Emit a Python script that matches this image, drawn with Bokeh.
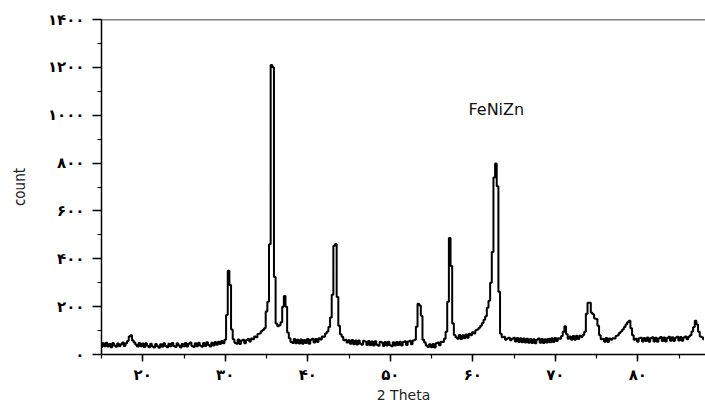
import numpy as np
from bokeh.plotting import figure
from bokeh.models import Range1d, SingleIntervalTicker, Span, Label
from bokeh.embed import file_html
from bokeh.resources import INLINE

# XRD scan: start angle and step of the measurement grid (degrees 2-theta)
scan_start = 15.0
scan_step = 0.2

# counts, in 10-degree blocks
counts_15_25 = [
    31, 47, 35, 49, 33, 44, 30, 48, 38, 32,
    46, 34, 43, 50, 36, 47, 56, 75, 80, 58,
    50, 41, 33, 48, 35, 46, 31, 47, 37, 30,
    45, 33, 29, 44, 35, 28, 43, 32, 47, 36,
    30, 45, 34, 48, 36, 31, 47, 38, 29, 44,
]
counts_25_35 = [
    34, 48, 33, 45, 50, 36, 31, 47, 35, 49,
    38, 32, 48, 36, 51, 40, 33, 49, 38, 52,
    41, 53, 44, 56, 47, 62, 165, 350, 290, 105,
    64, 49, 45, 63, 44, 58, 62, 47, 61, 65,
    54, 67, 64, 75, 72, 86, 88, 97, 102, 110,
]
counts_35_45 = [
    180, 220, 461, 1210, 1200, 324, 130, 118, 122, 135,
    200, 245, 200, 92, 68, 52, 48, 65, 47, 62,
    46, 63, 45, 61, 48, 65, 45, 62, 66, 50,
    65, 52, 68, 63, 75, 74, 88, 96, 115, 155,
    250, 455, 462, 240, 120, 85, 74, 60, 62, 50,
]
counts_45_55 = [
    60, 45, 61, 43, 59, 42, 58, 45, 41, 57,
    54, 40, 56, 39, 54, 38, 55, 41, 37, 53,
    50, 36, 52, 38, 53, 39, 35, 51, 38, 52,
    40, 53, 38, 52, 55, 40, 54, 57, 43, 59,
    62, 116, 212, 205, 162, 62, 50, 38, 31, 43,
]
counts_55_65 = [
    30, 44, 29, 47, 50, 39, 53, 52, 66, 95,
    220, 487, 370, 130, 82, 72, 66, 82, 65, 80,
    68, 84, 70, 87, 80, 93, 88, 101, 104, 112,
    120, 132, 145, 160, 195, 225, 300, 428, 740, 798,
    703, 262, 87, 72, 74, 62, 67, 70, 60, 66,
]
counts_65_75 = [
    70, 54, 69, 52, 68, 51, 67, 50, 66, 49,
    65, 48, 64, 47, 62, 67, 49, 65, 48, 64,
    50, 66, 51, 68, 52, 69, 56, 68, 66, 77,
    95, 118, 85, 66, 75, 62, 77, 62, 78, 65,
    78, 73, 82, 95, 170, 216, 216, 175, 168, 150,
]
counts_75_85 = [
    148, 120, 80, 64, 66, 53, 69, 52, 67, 62,
    68, 67, 77, 80, 90, 96, 105, 115, 125, 135,
    141, 110, 80, 62, 66, 53, 68, 70, 54, 69,
    56, 71, 53, 68, 72, 54, 70, 53, 68, 73,
    56, 71, 54, 69, 74, 57, 72, 56, 70, 74,
]
counts_85_88 = [
    58, 73, 57, 71, 75, 64, 74, 80, 96, 115, 141, 125, 95, 75, 72, 64,
]

x_tick_labels = {20: "۲۰", 30: "۳۰", 40: "۴۰", 50: "۵۰", 60: "۶۰", 70: "۷۰", 80: "۸۰"}
y_tick_labels = {0: "۰", 200: "۲۰۰", 400: "۴۰۰", 600: "۶۰۰", 800: "۸۰۰",
                 1000: "۱۰۰۰", 1200: "۱۲۰۰", 1400: "۱۴۰۰"}
sample_name = "FeNiZn"

counts = np.array(counts_15_25 + counts_25_35 + counts_35_45 + counts_45_55
                  + counts_55_65 + counts_65_75 + counts_75_85 + counts_85_88, dtype=float)
two_theta = np.round(scan_start + scan_step * np.arange(len(counts)), 1)

p = figure(width=705, height=405, output_backend="svg", toolbar_location=None,
           x_range=Range1d(15, 88.2), y_range=Range1d(0, 1400),
           min_border_left=101, min_border_right=0, min_border_top=19, min_border_bottom=49)
p.background_fill_color = "white"
p.border_fill_color = "white"
p.outline_line_color = None
p.grid.visible = False

p.step(two_theta, counts, mode="center", line_color="black", line_width=2)

p.add_layout(Span(location=1400, dimension="width", line_color="black", line_width=1.5))

p.add_layout(Label(x=62.85, y=1023, text=sample_name, text_align="center",
                   text_baseline="middle", text_font="DejaVu Sans",
                   text_font_size="16px", text_color="#111111"))

xa = p.xaxis[0]
xa.ticker = SingleIntervalTicker(interval=10, num_minor_ticks=2)
xa.major_label_overrides = x_tick_labels
xa.axis_label = "2 Theta"
xa.axis_label_text_font = "DejaVu Sans"
xa.axis_label_text_font_size = "14px"
xa.axis_label_text_font_style = "normal"
xa.axis_label_standoff = 0
xa.major_label_text_font = "DejaVu Sans"
xa.major_label_text_font_size = "15px"
xa.major_label_text_font_style = "bold"
xa.major_label_standoff = 4
xa.major_tick_out = 7
xa.major_tick_in = 0
xa.minor_tick_out = 4
xa.minor_tick_in = 0

ya = p.yaxis[0]
ya.ticker = SingleIntervalTicker(interval=200, num_minor_ticks=2)
ya.major_label_overrides = y_tick_labels
ya.axis_label = "count"
ya.axis_label_text_font = "DejaVu Sans Condensed"
ya.axis_label_text_font_size = "15px"
ya.axis_label_text_font_style = "normal"
ya.axis_label_standoff = 16
ya.major_label_text_font = "DejaVu Sans"
ya.major_label_text_font_size = "15px"
ya.major_label_text_font_style = "bold"
ya.major_label_standoff = 8
ya.major_tick_out = 9
ya.major_tick_in = 0
ya.minor_tick_out = 4
ya.minor_tick_in = 0

for ax in (xa, ya):
    ax.axis_line_color = "black"
    ax.axis_line_width = 1.5
    ax.major_tick_line_color = "black"
    ax.major_tick_line_width = 1.5
    ax.minor_tick_line_color = "black"
    ax.minor_tick_line_width = 1.2
    ax.major_label_text_color = "black"
    ax.axis_label_text_color = "#222222"

open("out.html", "w").write(file_html(p, INLINE))
